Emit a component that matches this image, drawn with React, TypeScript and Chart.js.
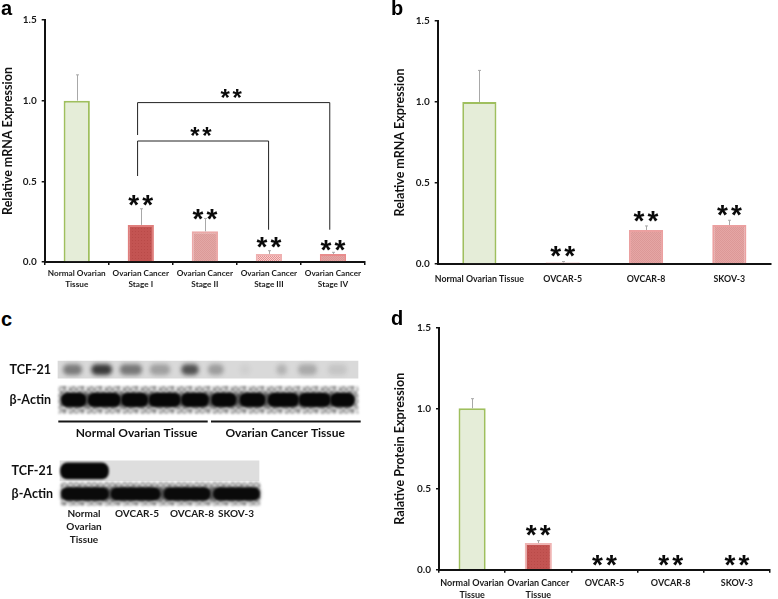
import React, { useEffect, useRef } from "react";
import { Chart, registerables } from "chart.js";

Chart.register(...registerables);

// ---------- Panel a ----------
const aCategories = [["Normal Ovarian", "Tissue"], ["Ovarian Cancer", "Stage I"], ["Ovarian Cancer", "Stage II"], ["Ovarian Cancer", "Stage III"], ["Ovarian Cancer", "Stage IV"]];
const aValues = [1.0, 0.23, 0.19, 0.05, 0.05];
const aErrorTops = [1.16, 0.33, 0.27, 0.07, 0.06];
const aStarLevels = [null, 0.38, 0.295, 0.12, 0.1];

// ---------- Panel b ----------
const bCategories = ["Normal Ovarian Tissue", "OVCAR-5", "OVCAR-8", "SKOV-3"];
const bValues = [1.0, 0.01, 0.21, 0.24];
const bErrorTops = [1.195, 0.015, 0.235, 0.27];
const bStarLevels = [null, 0.08, 0.295, 0.33];

// ---------- Panel d ----------
const dCategories = [["Normal Ovarian", "Tissue"], ["Ovarian Cancer", "Tissue"], "OVCAR-5", "OVCAR-8", "SKOV-3"];
const dValues = [1.0, 0.165, 0, 0, 0];
const dErrorTops = [1.06, 0.18, 0, 0, 0];
const dStarLevels = [null, 0.24, 0.055, 0.055, 0.055];

const yTicks = [0, 0.5, 1.0, 1.5];

// ---------- Panel c: western blots ----------
const blotRows = ["TCF-21", "β-Actin"];
const tissueTcfBands = [[0.18, 0.79], [1.12, 1.79], [2.07, 2.79], [3.07, 3.73], [4.12, 4.68], [5.01, 5.51], [6.07, 6.4], [7.29, 7.62], [8.01, 8.62], [9.01, 9.62]];
const tissueTcfIntensity = [0.5, 0.85, 0.52, 0.3, 0.72, 0.32, 0.05, 0.2, 0.25, 0.1];
const tissueActinBands = [[0.12, 0.93], [1.01, 2.07], [2.12, 2.99], [3.04, 4.07], [4.12, 5.01], [5.12, 5.93], [6.07, 6.9], [7.01, 8.01], [8.04, 9.07], [9.09, 9.87]];
const tissueActinSmear = [[0.1, 9.9]];
const tissueGroupLabels = ["Normal Ovarian Tissue", "Ovarian Cancer Tissue"];
const tissueGroupCentres = [2.62, 7.57];
const tissueGroupSpans = [[0.01, 4.99], [5.1, 10.09]];
const cellTcfBands = [[0.01, 0.97]];
const cellActinBands = [[0.03, 0.97], [1.02, 2.0], [2.08, 3.0], [3.07, 3.99]];
const cellActinSmear = [[0.03, 3.99]];
const cellLaneLabels = [["Normal", "Ovarian", "Tissue"], "OVCAR-5", "OVCAR-8", "SKOV-3"];
const cellLaneCentres = [0.48, 1.54, 2.64, 3.52];
const mottleTile = [
  [205, 160, 220, 175, 235, 150],
  [170, 225, 145, 210, 165, 230],
  [230, 150, 200, 240, 185, 160],
  [160, 215, 175, 140, 225, 205],
];

const FONT = "Lato";
const INK = "#111111";

function dotted(base: string, dot: string, step: number) {
  const c = document.createElement("canvas");
  c.width = step;
  c.height = step;
  const x = c.getContext("2d")!;
  x.fillStyle = base;
  x.fillRect(0, 0, step, step);
  x.fillStyle = dot;
  x.fillRect(0, 0, 1, 1);
  if (step === 2) x.fillRect(1, 1, 1, 1);
  return x.createPattern(c, "repeat")!;
}

function mottled() {
  const c = document.createElement("canvas");
  c.width = mottleTile[0].length * 3;
  c.height = mottleTile.length * 3;
  const x = c.getContext("2d")!;
  mottleTile.forEach((row, j) =>
    row.forEach((g, i) => {
      x.fillStyle = `rgb(${g},${g},${g})`;
      x.fillRect(i * 3, j * 3, 3, 3);
    }),
  );
  return x.createPattern(c, "repeat")!;
}

type Star = { at: number; level: number; size: number };
type Bracket = { from: number; to: number; top: number; fromEnd: number; toEnd: number };

function drawStars(ctx: CanvasRenderingContext2D, chart: any, s: Star) {
  const { x, y } = chart.scales;
  const spacing = s.size * 0.11;
  ctx.save();
  ctx.font = `bold ${s.size}px "Liberation Sans"`;
  (ctx as any).letterSpacing = `${spacing}px`;
  ctx.textAlign = "center";
  ctx.textBaseline = "alphabetic";
  ctx.fillStyle = "#0a0a0a";
  const m = ctx.measureText("**");
  const shift = (m.actualBoundingBoxAscent - m.actualBoundingBoxDescent) / 2;
  ctx.fillText("**", x.getPixelForValue(s.at) + spacing / 2, y.getPixelForValue(s.level) + shift);
  ctx.restore();
}

function marks(errorTops: number[], values: number[], stars: Star[], brackets: Bracket[]) {
  return {
    id: "marks",
    afterDatasetsDraw(chart: any) {
      const { ctx, scales } = chart;
      const { x, y } = scales;
      ctx.save();
      ctx.strokeStyle = "#a8a8a8";
      ctx.lineWidth = 1;
      errorTops.forEach((top, i) => {
        if (top <= values[i]) return;
        const px = Math.round(x.getPixelForValue(i)) + 0.5;
        ctx.beginPath();
        ctx.moveTo(px, y.getPixelForValue(values[i]));
        ctx.lineTo(px, y.getPixelForValue(top));
        ctx.moveTo(px - 1.5, y.getPixelForValue(top));
        ctx.lineTo(px + 1.5, y.getPixelForValue(top));
        ctx.stroke();
      });
      ctx.strokeStyle = "#222222";
      brackets.forEach((b) => {
        ctx.beginPath();
        ctx.moveTo(x.getPixelForValue(b.from), y.getPixelForValue(b.fromEnd));
        ctx.lineTo(x.getPixelForValue(b.from), y.getPixelForValue(b.top));
        ctx.lineTo(x.getPixelForValue(b.to), y.getPixelForValue(b.top));
        ctx.lineTo(x.getPixelForValue(b.to), y.getPixelForValue(b.toEnd));
        ctx.stroke();
      });
      ctx.restore();
      stars.forEach((s) => drawStars(ctx, chart, s));
    },
  };
}

function starsFrom(levels: (number | null)[], size: number): Star[] {
  const out: Star[] = [];
  levels.forEach((level, i) => {
    if (level !== null) out.push({ at: i, level, size });
  });
  return out;
}

function barChart(
  canvas: HTMLCanvasElement,
  o: {
    labels: any[];
    values: number[];
    fills: any[];
    borders: string[];
    title: string;
    titleInset: number;
    left: number;
    right: number;
    top: number;
    bottom: number;
    width: number;
    height: number;
    tickFont: number;
    tickPad: number;
    xTicks: boolean;
    plugin: any;
  },
) {
  return new Chart(canvas, {
    type: "bar",
    data: {
      labels: o.labels,
      datasets: [
        {
          data: o.values,
          backgroundColor: o.fills,
          borderColor: o.borders,
          borderWidth: 2,
          categoryPercentage: 1,
          barPercentage: 0.41,
        },
      ],
    },
    plugins: [o.plugin],
    options: {
      responsive: false,
      animation: false,
      events: [],
      layout: { autoPadding: false, padding: { top: o.top, right: o.width - o.right, left: 0, bottom: 0 } },
      plugins: { legend: { display: false }, title: { display: false }, tooltip: { enabled: false } },
      scales: {
        x: {
          type: "category",
          grid: { display: o.xTicks, drawOnChartArea: false, drawTicks: o.xTicks, tickLength: 3, color: INK, lineWidth: 1.5, offset: true },
          border: { color: INK, width: 2 },
          ticks: {
            color: "#1a1a1a",
            font: { family: FONT, weight: "bold", size: o.tickFont, lineHeight: 1.3 },
            padding: o.tickPad,
            maxRotation: 0,
            minRotation: 0,
            autoSkip: false,
          },
          afterFit(s: any) {
            s.height = o.height - o.bottom;
          },
        },
        y: {
          type: "linear",
          min: 0,
          max: 1.5,
          grid: { drawOnChartArea: false, drawTicks: true, tickLength: 3, color: INK, lineWidth: 1.5 },
          border: { color: INK, width: 2 },
          afterBuildTicks(s: any) {
            s.ticks = yTicks.map((value) => ({ value }));
          },
          ticks: {
            color: "#1a1a1a",
            font: { family: FONT, weight: "bold", size: 10 },
            padding: 5,
            callback: (v: any) => Number(v).toFixed(1),
          },
          title: {
            display: true,
            text: o.title,
            color: "#111111",
            font: { family: FONT, weight: "bold", size: 12.5 },
            padding: { top: o.titleInset, bottom: 0 },
          },
          afterFit(s: any) {
            s.width = o.left;
          },
        },
      },
    } as any,
  });
}

const blurPlugin = {
  id: "blur",
  beforeDatasetDraw(chart: any, args: any) {
    const b = chart.data.datasets[args.index].blurPx;
    chart.ctx.save();
    if (b) chart.ctx.filter = `blur(${b}px)`;
  },
  afterDatasetDraw(chart: any) {
    chart.ctx.restore();
  },
};

function bandSet(row: string, bands: number[][], colours: any, thickness: number, blurPx: number, radius: number) {
  return {
    data: bands.map((x) => ({ x, y: row })),
    backgroundColor: colours,
    borderWidth: 0,
    barThickness: thickness,
    borderSkipped: false,
    borderRadius: radius,
    blurPx,
  };
}

function blotChart(
  canvas: HTMLCanvasElement,
  o: {
    datasets: any[];
    lanes: number;
    left: number;
    right: number;
    top: number;
    bottom: number;
    width: number;
    height: number;
    centres: number[];
    labels: any[];
    labelFont: number;
    labelPad: number;
    rowFont: number;
    rowPad: number;
    spans?: number[][];
    labelColor: string;
  },
) {
  const rules = {
    id: "rules",
    afterDraw(chart: any) {
      if (!o.spans) return;
      const { ctx, scales } = chart;
      ctx.save();
      ctx.fillStyle = "#161616";
      o.spans.forEach(([a, b]) => {
        const x0 = scales.x.getPixelForValue(a);
        const x1 = scales.x.getPixelForValue(b);
        ctx.fillRect(x0, scales.y.bottom + 5.5, x1 - x0, 2);
      });
      ctx.restore();
    },
  };
  return new Chart(canvas, {
    type: "bar",
    data: { labels: blotRows, datasets: o.datasets },
    plugins: [blurPlugin, rules],
    options: {
      indexAxis: "y",
      responsive: false,
      animation: false,
      events: [],
      clip: false,
      layout: { autoPadding: false, padding: { top: o.top, right: o.width - o.right, left: 0, bottom: 0 } },
      plugins: { legend: { display: false }, tooltip: { enabled: false } },
      datasets: { bar: { grouped: false } },
      scales: {
        x: {
          type: "linear",
          min: 0,
          max: o.lanes,
          grid: { display: false, drawTicks: false },
          border: { display: false },
          afterBuildTicks(s: any) {
            s.ticks = o.centres.map((value) => ({ value }));
          },
          ticks: {
            autoSkip: false,
            maxRotation: 0,
            minRotation: 0,
            color: o.labelColor,
            padding: o.labelPad,
            font: { family: FONT, weight: "bold", size: o.labelFont, lineHeight: 1.3 },
            callback: (_v: any, i: number) => o.labels[i],
          },
          afterFit(s: any) {
            s.height = o.height - o.bottom;
          },
        },
        y: {
          type: "category",
          offset: true,
          grid: { display: false, drawTicks: false },
          border: { display: false },
          ticks: {
            color: "#111111",
            padding: o.rowPad,
            font: { family: FONT, weight: "bold", size: o.rowFont },
          },
          afterFit(s: any) {
            s.width = o.left;
          },
        },
      },
    } as any,
  });
}

const canvasStyle = (left: number, top: number): React.CSSProperties => ({ position: "absolute", left, top, display: "block", filter: "blur(0.35px)" });

const letters = [
  { t: "a", x: 1, y: -3 },
  { t: "b", x: 391, y: -3 },
  { t: "c", x: 1, y: 308 },
  { t: "d", x: 391, y: 307 },
];

export default function App() {
  const aRef = useRef<HTMLCanvasElement>(null);
  const bRef = useRef<HTMLCanvasElement>(null);
  const dRef = useRef<HTMLCanvasElement>(null);
  const c1Ref = useRef<HTMLCanvasElement>(null);
  const c2Ref = useRef<HTMLCanvasElement>(null);

  useEffect(() => {
    const green = "#e5edd8";
    const greenEdge = "#9fbf5e";
    const deep = dotted("#c35452", "#b94a48", 3);
    const mid = dotted("#e3a8a6", "#dc9a98", 2);
    const light = dotted("#f6cfcf", "#e68f8f", 2);
    const rose = dotted("#e5a6a5", "#dc9897", 2);
    const mottle = mottled();

    const charts: Chart[] = [];

    charts.push(
      barChart(aRef.current!, {
        labels: aCategories,
        values: aValues,
        fills: [green, deep, mid, light, rose],
        borders: [greenEdge, "#e07f7d", "#eba9a8", "#efb0b0", "#e88c8c"],
        title: "Relative mRNA Expression",
        titleInset: 0,
        left: 44.7,
        right: 365,
        top: 20,
        bottom: 262,
        width: 385,
        height: 300,
        tickFont: 8.2,
        tickPad: 3,
        xTicks: true,
        plugin: marks(
          aErrorTops,
          aValues,
          [
            ...starsFrom(aStarLevels, 28),
            { at: 2.41, level: 1.045, size: 24 },
            { at: 1.94, level: 0.808, size: 24 },
          ],
          [
            { from: 0.95, to: 3.95, top: 0.988, fromEnd: 0.787, toEnd: 0.2 },
            { from: 0.95, to: 2.995, top: 0.75, fromEnd: 0.533, toEnd: 0.2 },
          ],
        ),
      }),
    );

    charts.push(
      barChart(bRef.current!, {
        labels: bCategories,
        values: bValues,
        fills: [green, rose, rose, rose],
        borders: [greenEdge, "#e48c8c", "#eba0a0", "#eba0a0"],
        title: "Relative mRNA Expression",
        titleInset: 2,
        left: 47.7,
        right: 381,
        top: 21,
        bottom: 264,
        width: 388,
        height: 300,
        tickFont: 8.8,
        tickPad: 9,
        xTicks: false,
        plugin: marks(bErrorTops, bValues, starsFrom(bStarLevels, 28), []),
      }),
    );

    charts.push(
      blotChart(c1Ref.current!, {
        datasets: [
          bandSet("β-Actin", tissueActinBands, "#070707", 13, 1, 6),
          bandSet("β-Actin", tissueActinSmear, "rgba(40,40,40,0.75)", 13, 2, 5),
          bandSet("TCF-21", tissueTcfBands, tissueTcfIntensity.map((i) => `rgba(30,30,30,${i})`), 10, 2, 5),
          bandSet("β-Actin", [[0.03, 10]], mottle, 27, 1, 0),
          bandSet("TCF-21", [[0, 10]], "#d9d9d9", 17, 0.5, 0),
        ],
        lanes: 10,
        left: 58,
        right: 358,
        top: 11,
        bottom: 75,
        width: 378,
        height: 115,
        centres: tissueGroupCentres,
        labels: tissueGroupLabels,
        labelFont: 12,
        labelPad: 10,
        rowFont: 12.5,
        rowPad: 7,
        spans: tissueGroupSpans,
        labelColor: "#111111",
      }),
    );

    charts.push(
      blotChart(c2Ref.current!, {
        datasets: [
          bandSet("β-Actin", cellActinBands, "#0a0a0a", 12, 1, 6),
          bandSet("β-Actin", cellActinSmear, "rgba(40,40,40,0.75)", 12, 2, 5),
          bandSet("TCF-21", cellTcfBands, "#070707", 16, 1, 7),
          bandSet("β-Actin", [[0.02, 4]], mottle, 23, 1, 0),
          bandSet("TCF-21", [[0, 3.98]], "#dedede", 20, 0.5, 0),
        ],
        lanes: 4,
        left: 60,
        right: 260,
        top: 5.25,
        bottom: 60.25,
        width: 300,
        height: 115,
        centres: cellLaneCentres,
        labels: cellLaneLabels,
        labelFont: 10,
        labelPad: 2,
        rowFont: 12.5,
        rowPad: 7,
        labelColor: "#1a1a1a",
      }),
    );

    charts.push(
      barChart(dRef.current!, {
        labels: dCategories,
        values: dValues,
        fills: [green, deep, rose, rose, rose],
        borders: [greenEdge, "#efb4b3", "#e48c8c", "#e48c8c", "#e48c8c"],
        title: "Ralative Protein Expression",
        titleInset: 2,
        left: 49,
        right: 380,
        top: 27.7,
        bottom: 269.7,
        width: 388,
        height: 299,
        tickFont: 9,
        tickPad: 5,
        xTicks: true,
        plugin: marks(dErrorTops, dValues, starsFrom(dStarLevels, 28), []),
      }),
    );

    return () => charts.forEach((c) => c.destroy());
  }, []);

  return (
    <div style={{ position: "absolute", left: 0, top: 0, width: 778, height: 599, overflow: "hidden", background: "#ffffff" }}>
      <canvas ref={aRef} width={385} height={300} style={canvasStyle(0, 0)} />
      <canvas ref={bRef} width={388} height={300} style={canvasStyle(390, 0)} />
      <canvas ref={c1Ref} width={378} height={115} style={canvasStyle(0, 340)} />
      <canvas ref={c2Ref} width={300} height={115} style={canvasStyle(0, 445)} />
      <canvas ref={dRef} width={388} height={299} style={canvasStyle(390, 300)} />
      {letters.map((l) => (
        <div
          key={l.t}
          style={{
            position: "absolute",
            left: l.x,
            top: l.y,
            font: 'bold 20px "Liberation Sans"',
            color: "#000",
          }}
        >
          {l.t}
        </div>
      ))}
    </div>
  );
}
